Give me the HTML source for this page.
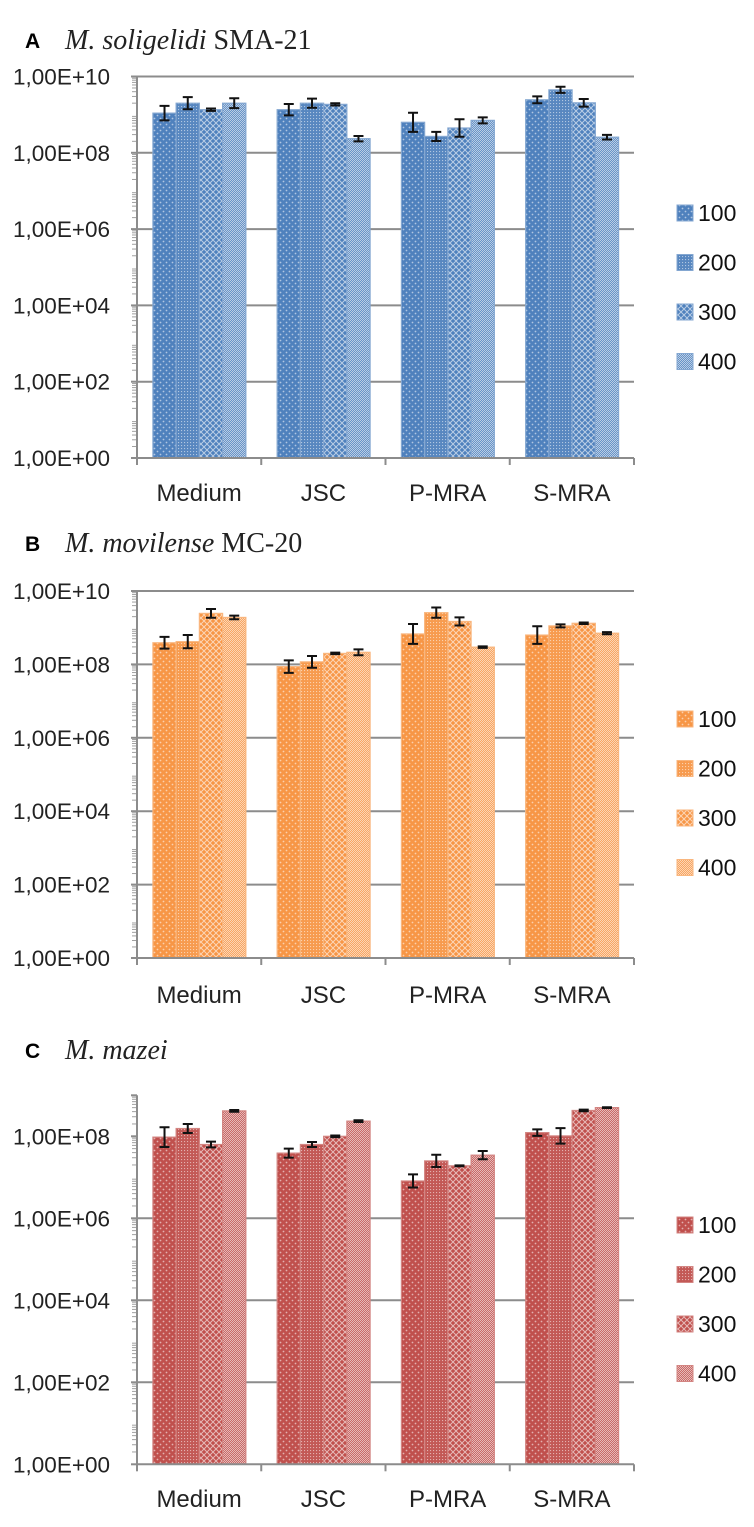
<!DOCTYPE html>
<html><head><meta charset="utf-8">
<style>
html,body{margin:0;padding:0;background:#fff;}
svg{display:block;}
.tick{font-family:"Liberation Sans",sans-serif;font-size:22.5px;fill:#222;}
.cat{font-family:"Liberation Sans",sans-serif;font-size:24px;fill:#222;}
.leg{font-family:"Liberation Sans",sans-serif;font-size:23px;fill:#111;}
.pl{font-family:"Liberation Sans",sans-serif;font-size:21px;font-weight:bold;fill:#000;}
.tt{font-family:"Liberation Serif",serif;font-size:28px;fill:#222;}
</style></head>
<body>
<svg id="fig" width="754" height="1527" viewBox="0 0 754 1527" xmlns="http://www.w3.org/2000/svg">
<defs id="defs"></defs>
</svg>
<script>
// ---- data (log10 of cell counts) ----
const categories = ["Medium","JSC","P-MRA","S-MRA"];
const seriesNames = ["100","200","300","400"];
// Panel A: M. soligelidi SMA-21
const aS100 = [9.04, 9.13, 8.80, 9.39];
const aS200 = [9.30, 9.30, 8.43, 9.65];
const aS300 = [9.13, 9.27, 8.65, 9.31];
const aS400 = [9.30, 8.37, 8.85, 8.41];
const aE100 = [0.19, 0.15, 0.25, 0.09];
const aE200 = [0.16, 0.12, 0.12, 0.08];
const aE300 = [0.03, 0.03, 0.23, 0.10];
const aE400 = [0.13, 0.07, 0.08, 0.06];
// Panel B: M. movilense MC-20
const bS100 = [8.59, 7.94, 8.83, 8.80];
const bS200 = [8.62, 8.07, 9.41, 9.05];
const bS300 = [9.39, 8.30, 9.17, 9.12];
const bS400 = [9.28, 8.33, 8.47, 8.85];
const bE100 = [0.16, 0.17, 0.27, 0.24];
const bE200 = [0.18, 0.16, 0.14, 0.04];
const bE300 = [0.12, 0.02, 0.11, 0.02];
const bE400 = [0.05, 0.08, 0.02, 0.03];
// Panel C: M. mazei
const cS100 = [7.98, 7.59, 6.91, 8.09];
const cS200 = [8.19, 7.80, 7.40, 8.01];
const cS300 = [7.80, 8.00, 7.28, 8.63];
const cS400 = [8.62, 8.37, 7.54, 8.70];
const cE100 = [0.24, 0.11, 0.16, 0.08];
const cE200 = [0.11, 0.06, 0.15, 0.19];
const cE300 = [0.07, 0.02, 0.01, 0.02];
const cE400 = [0.02, 0.02, 0.10, 0.01];
const tickLabelsAB = ["1,00E+00","1,00E+02","1,00E+04","1,00E+06","1,00E+08","1,00E+10"];
const tickLabelsC = ["1,00E+00","1,00E+02","1,00E+04","1,00E+06","1,00E+08"];

const NS = "http://www.w3.org/2000/svg";
const svg = document.getElementById('fig');
const defs = document.getElementById('defs');
function mk(tag, attrs, parent){
  const e = document.createElementNS(NS, tag);
  for (const k in attrs) e.setAttribute(k, attrs[k]);
  (parent||svg).appendChild(e);
  return e;
}
function lighten(hex, f){
  const n=parseInt(hex.slice(1),16);let r=n>>16,g=(n>>8)&255,b=n&255;
  r=Math.round(r+(255-r)*f);g=Math.round(g+(255-g)*f);b=Math.round(b+(255-b)*f);
  return `rgb(${r},${g},${b})`;
}
function makePatterns(id, col){
  const lt = lighten(col,0.55);
  let p = mk('pattern',{id:id+'p0',width:6,height:6,patternUnits:'userSpaceOnUse'},defs);
  mk('rect',{width:6,height:6,fill:col},p);
  mk('circle',{cx:1.5,cy:1.5,r:0.9,fill:lt},p);
  mk('circle',{cx:4.5,cy:4.5,r:0.9,fill:lt},p);
  p = mk('pattern',{id:id+'p1',width:3,height:3,patternUnits:'userSpaceOnUse'},defs);
  mk('rect',{width:3,height:3,fill:lighten(col,0.05)},p);
  mk('rect',{x:1,y:1,width:1.1,height:1.1,fill:lt},p);
  p = mk('pattern',{id:id+'p2',width:6,height:6,patternUnits:'userSpaceOnUse'},defs);
  mk('rect',{width:6,height:6,fill:col},p);
  mk('path',{d:'M0,3 L3,0 L6,3 L3,6 Z',fill:'none',stroke:lighten(col,0.6),'stroke-width':1},p);
  p = mk('pattern',{id:id+'p3',width:2,height:2,patternUnits:'userSpaceOnUse'},defs);
  mk('rect',{width:2,height:2,fill:lighten(col,0.15)},p);
  mk('rect',{width:1,height:1,fill:lighten(col,0.6)},p);
  mk('rect',{x:1,y:1,width:1,height:1,fill:lighten(col,0.6)},p);
}

function panel(cfg){
  const g = mk('g',{});
  
  
  makePatterns(cfg.name, cfg.color);
  const x0=137, x1=634, cw=(x1-x0)/categories.length;
  const y = v => cfg.base - v*cfg.perDec;
  const L = mk('text',{x:25,y:cfg.titleY+8,class:'pl'},g); L.textContent=cfg.letter;
   
  const T = mk('text',{x:65,y:cfg.titleY+9,class:'tt'},g);
   
  const it = mk('tspan',{'font-style':'italic'},T); it.textContent = cfg.italic;
  if (cfg.rest){ const r = mk('tspan',{},T); r.textContent = cfg.rest; }
  cfg.ticks.forEach((lab,i)=>{
    const yy = y(i*2);
    if (i>0 && !(cfg.noTopGrid && i===cfg.ticks.length-1)){
      const gl = mk('line',{x1:x0,x2:x1,y1:yy,y2:yy,stroke:'#8c8c8c','stroke-width':2},g);
       
    }
    mk('line',{x1:x0-6,x2:x0,y1:yy,y2:yy,stroke:'#8c8c8c','stroke-width':2},g);
    const t = mk('text',{x:110,y:yy+8,'text-anchor':'end',class:'tick'},g);
    t.textContent = lab;
     
  });
  for (let d=0; d<cfg.maxLog; d++){
    for (let m=2;m<=9;m++){
      const yy=y(d+Math.log10(m));
      mk('line',{x1:x0-5,x2:x0,y1:yy,y2:yy,stroke:'#a0a0a0','stroke-width':1},g);
    }
  }
  const ya = mk('line',{x1:x0,x2:x0,y1:y(cfg.maxLog),y2:cfg.base,stroke:'#8c8c8c','stroke-width':2},g);
   
  if (cfg.noTopGrid) mk('line',{x1:x0-6,x2:x0,y1:y(cfg.maxLog),y2:y(cfg.maxLog),stroke:'#8c8c8c','stroke-width':2},g);
  const bw = cw*0.187, off = cw*0.128;
  cfg.series.forEach((vals,s)=>{
    vals.forEach((v,c)=>{
      const bx = x0 + c*cw + off + s*bw;
      const r = mk('rect',{x:bx,y:y(v),width:bw,height:cfg.base-y(v),fill:`url(#${cfg.name}p${s})`,stroke:lighten(cfg.color,0.3),'stroke-width':1.2},g);
      
      
      const e = cfg.errs[s][c];
      const cx = bx+bw/2, ya1=y(v+e), ya2=y(v-e);
      const eb = mk('path',{d:`M${cx-5},${ya1}H${cx+5}M${cx},${ya1}V${ya2}M${cx-5},${ya2}H${cx+5}`,stroke:'#111','stroke-width':2,fill:'none'},g);
       
    });
  });
  const xa = mk('line',{x1:x0,x2:x1,y1:cfg.base,y2:cfg.base,stroke:'#8c8c8c','stroke-width':2},g);
   
  for (let i=0;i<=categories.length;i++){
    mk('line',{x1:x0+i*cw,x2:x0+i*cw,y1:cfg.base,y2:cfg.base+7,stroke:'#8c8c8c','stroke-width':2},g);
  }
  categories.forEach((c,i)=>{
    const t = mk('text',{x:x0+(i+0.5)*cw,y:cfg.catY+8,'text-anchor':'middle',class:'cat'},g);
    t.textContent = c;
     
  });
  seriesNames.forEach((n,i)=>{
    const ly = cfg.legY + i*49.5;
    const lg = mk('g',{},g);
    
    
    mk('rect',{x:677,y:ly-8,width:16,height:16,fill:`url(#${cfg.name}p${i})`,stroke:lighten(cfg.color,0.3),'stroke-width':1},lg);
    const t = mk('text',{x:698,y:ly+8,class:'leg'},lg); t.textContent=n;
  });
}

panel({name:'panel-a',letter:'A',italic:'M. soligelidi',rest:' SMA-21',titleY:40,color:'#4f81bd',
  base:458,perDec:38.15,maxLog:10,ticks:tickLabelsAB,catY:493,legY:213,
  series:[aS100,aS200,aS300,aS400],errs:[aE100,aE200,aE300,aE400]});
panel({name:'panel-b',letter:'B',italic:'M. movilense',rest:' MC-20',titleY:543,color:'#f79646',
  base:958,perDec:36.7,maxLog:10,ticks:tickLabelsAB,catY:995,legY:719,
  series:[bS100,bS200,bS300,bS400],errs:[bE100,bE200,bE300,bE400]});
panel({name:'panel-c',letter:'C',italic:'M. mazei',rest:'',titleY:1050,color:'#c0504d',
  base:1464.3,perDec:41,maxLog:9,ticks:tickLabelsC,catY:1499,legY:1225,noTopGrid:true,
  series:[cS100,cS200,cS300,cS400],errs:[cE100,cE200,cE300,cE400]});
</script>
</body></html>
